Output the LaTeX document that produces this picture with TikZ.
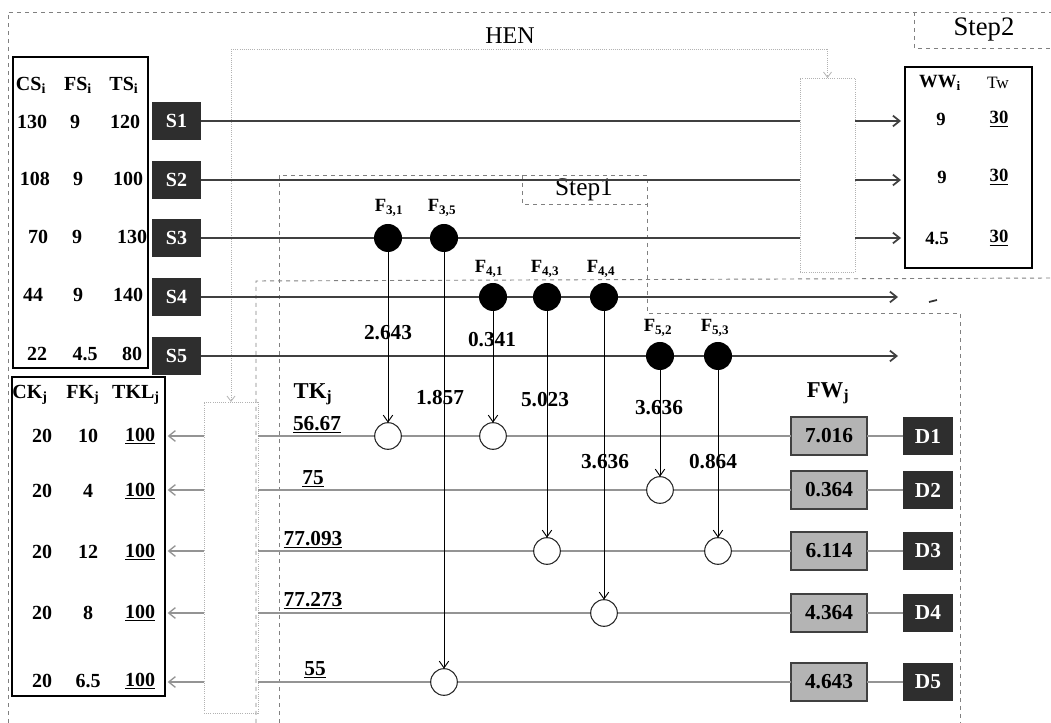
\documentclass[tikz,border=0pt]{standalone}
\usepackage{fontspec}
\setmainfont{Liberation Serif}
\usetikzlibrary{arrows.meta}
\definecolor{boxdark}{HTML}{2E2E2E}
\definecolor{fwgray}{HTML}{B4B4B4}
\begin{document}
\begin{tikzpicture}[x=0.75pt,y=-0.75pt,
  every node/.style={inner sep=0pt, outer sep=0pt},
  sbox/.style={fill=boxdark, text=white, font=\bfseries\fontsize{15}{15}\selectfont, minimum width=37pt, minimum height=28pt},
  fwbox/.style={fill=fwgray, draw=black!75, line width=0.9pt, font=\bfseries\fontsize{16}{16}\selectfont, minimum width=57pt, minimum height=28.5pt},
  hot/.style={circle, fill=black, minimum size=21pt},
  cold/.style={circle, draw=black!85, line width=0.8pt, fill=white, minimum size=20pt},
  val/.style={font=\bfseries\fontsize{16}{16}\selectfont},
  tab/.style={font=\bfseries\fontsize{15}{15}\selectfont},
  wtab/.style={font=\bfseries\fontsize{14}{14}\selectfont},
  flab/.style={font=\bfseries\fontsize{14}{14}\selectfont},
  hdr/.style={font=\fontsize{18}{18}\selectfont},
  stream/.style={draw=black!75, line width=1.3pt},
  sink/.style={draw=black!42, line width=1pt},
  henl/.style={draw=black!30, line width=0.6pt, densely dotted},
  stepl/.style={draw=black!50, line width=0.7pt, dashed},
  tip/.style={-{Straight Barb[length=5pt,width=8pt]}},
  ext/.style={-{Straight Barb[length=4pt,width=6pt]}},
  flow/.style={draw=black, line width=0.7pt, -{Straight Barb[length=5pt,width=7pt]}},
]
\useasboundingbox (0,0) rectangle (1051,723);

% ---------- dashed frames ----------
\draw[stepl] (8,723) -- (8,12) -- (1051,12);
\draw[stepl] (914,12) -- (914,48) -- (1051,48);
\draw[stepl] (256,723) -- (256,281) -- (1051,278);
\draw[stepl] (279,723) -- (279,175) -- (647,175) -- (647,313) -- (960,313) -- (960,723);
\draw[stepl] (522,175) -- (522,204) -- (647,204);
\node[hdr] (hen) at (510,36) {HEN};
\node[font=\fontsize{20}{20}\selectfont] (st2) at (984,30) {Step2};
\node[font=\fontsize{19}{19}\selectfont] (st1) at (584,190) {Step1};

% ---------- HEN boxes ----------
\node[henl, draw, minimum width=41.25pt, minimum height=145.5pt] (heat) at (827.5,175) {};
\node[henl, draw, minimum width=40.5pt, minimum height=233.25pt] (cool) at (231,557.5) {};
\coordinate (henL) at (231,49);
\coordinate (henR) at (827.5,49);
\draw[henl] (henL) -- (henR);
\draw[henl, ext] (henL) -- (cool.north);
\draw[henl, ext] (henR) -- (heat.north);

% ---------- source table ----------
\node[draw, line width=1.2pt, minimum width=101.25pt, minimum height=233pt] (stab) at (80.5,212.5) {};
\node[tab] (hcs) at (31,85) {CS\textsubscript{i}};
\node[tab] (hfs) at (78,85) {FS\textsubscript{i}};
\node[tab] (hts) at (124,85) {TS\textsubscript{i}};
\node[tab] (a1) at (32,122) {130}; \node[tab] (b1) at (75,122) {9};   \node[tab] (c1) at (125,122) {120};
\node[tab] (a2) at (35,179) {108}; \node[tab] (b2) at (78,179) {9};   \node[tab] (c2) at (128,179) {100};
\node[tab] (a3) at (38,237) {70};  \node[tab] (b3) at (77,237) {9};   \node[tab] (c3) at (132,237) {130};
\node[tab] (a4) at (33,295) {44};  \node[tab] (b4) at (78,295) {9};   \node[tab] (c4) at (128,295) {140};
\node[tab] (a5) at (37,354) {22};  \node[tab] (b5) at (85,354) {4.5}; \node[tab] (c5) at (132,354) {80};

% ---------- source boxes ----------
\node[sbox] (S1) at (176.5,121) {S1};
\node[sbox] (S2) at (176.5,180) {S2};
\node[sbox] (S3) at (176.5,238) {S3};
\node[sbox] (S4) at (176.5,297) {S4};
\node[sbox] (S5) at (176.5,356) {S5};

% ---------- WW table ----------
\node[draw, line width=1.5pt, minimum width=95.25pt, minimum height=150.75pt] (WW) at (968.5,167.5) {};
\node[wtab] (hww) at (940,83) {WW\textsubscript{i}};
\node[font=\fontsize{13}{13}\selectfont] (htw) at (998,83) {Tw};
\node[wtab] (w1) at (941,119) {9};   \node[wtab] (t1) at (999,119) {\underline{30}};
\node[wtab] (w2) at (942,177) {9};   \node[wtab] (t2) at (999,177) {\underline{30}};
\node[wtab] (w3) at (937,238) {4.5}; \node[wtab] (t3) at (999,238) {\underline{30}};

% ---------- stream lines ----------
\draw[stream] (S1.east) -- (heat.west |- S1);
\draw[stream] (S2.east) -- (heat.west |- S2);
\draw[stream] (S3.east) -- (heat.west |- S3);
\draw[stream, tip, shorten >=3pt] (heat.east |- S1) -- (WW.west |- S1);
\draw[stream, tip, shorten >=3pt] (heat.east |- S2) -- (WW.west |- S2);
\draw[stream, tip, shorten >=3pt] (heat.east |- S3) -- (WW.west |- S3);
\coordinate (e4) at (898,297);
\coordinate (e5) at (898,356);
\draw[stream, tip] (S4.east) -- (e4);
\draw[stream, tip] (S5.east) -- (e5);
\draw[line width=1.3pt, black!80] (929,302) -- (937,300);

% ---------- sink table ----------
\node[draw, line width=1.2pt, minimum width=114.75pt, minimum height=239.25pt] (ktab) at (88.5,536.5) {};
\node[tab] (hck) at (30,395) {CK\textsubscript{j}};
\node[tab] (hfk) at (83,395) {FK\textsubscript{j}};
\node[tab] (htk) at (136,395) {TKL\textsubscript{j}};
\node[tab] (k1) at (42,436) {20}; \node[tab] (f1) at (88,436) {10};  \node[tab] (l1) at (140,436) {\underline{100}};
\node[tab] (k2) at (42,491) {20}; \node[tab] (f2) at (88,491) {4};   \node[tab] (l2) at (140,491) {\underline{100}};
\node[tab] (k3) at (42,552) {20}; \node[tab] (f3) at (88,552) {12};  \node[tab] (l3) at (140,552) {\underline{100}};
\node[tab] (k4) at (42,613) {20}; \node[tab] (f4) at (88,613) {8};   \node[tab] (l4) at (140,613) {\underline{100}};
\node[tab] (k5) at (42,681) {20}; \node[tab] (f5) at (88,681) {6.5}; \node[tab] (l5) at (140,681) {\underline{100}};

% ---------- FW and D boxes ----------
\node[val, font=\bfseries\fontsize{17}{17}\selectfont] (tkh) at (313,394) {TK\textsubscript{j}};
\node[val, font=\bfseries\fontsize{17}{17}\selectfont] (fwh) at (828,393) {FW\textsubscript{j}};
\node[fwbox] (FW1) at (829,436) {7.016};
\node[fwbox] (FW2) at (829,490) {0.364};
\node[fwbox] (FW3) at (829,551) {6.114};
\node[fwbox] (FW4) at (829,613) {4.364};
\node[fwbox] (FW5) at (829,682) {4.643};
\node[sbox, font=\bfseries\fontsize{16}{16}\selectfont] (D1) at (928,436) {D1};
\node[sbox, font=\bfseries\fontsize{16}{16}\selectfont] (D2) at (928,490) {D2};
\node[sbox, font=\bfseries\fontsize{16}{16}\selectfont] (D3) at (928,551) {D3};
\node[sbox, font=\bfseries\fontsize{16}{16}\selectfont] (D4) at (928,613) {D4};
\node[sbox, font=\bfseries\fontsize{16}{16}\selectfont] (D5) at (928,682) {D5};

\foreach \i in {1,...,5}{
  \draw[sink] (D\i.west) -- (FW\i.east);
  \draw[sink] (FW\i.west) -- (cool.east |- FW\i);
  \draw[sink, tip, shorten >=2pt] (cool.west |- FW\i) -- (ktab.east |- FW\i);
}

\node[val, anchor=south] (tk1) at (317,433) {\underline{56.67}};
\node[val, anchor=south] (tk2) at (313,487) {\underline{75}};
\node[val, anchor=south] (tk3) at (313,548) {\underline{77.093}};
\node[val, anchor=south] (tk4) at (313,609) {\underline{77.273}};
\node[val, anchor=south] (tk5) at (315,678) {\underline{55}};

% ---------- matches ----------
\node[hot] (h31) at (388,238) {};
\node[hot] (h35) at (444,238) {};
\node[hot] (h41) at (493,297) {};
\node[hot] (h43) at (547,297) {};
\node[hot] (h44) at (604,297) {};
\node[hot] (h52) at (660,356) {};
\node[hot] (h53) at (718,356) {};
\node[cold] (c1a) at (388,436) {};
\node[cold] (c1b) at (493,436) {};
\node[cold] (c2)  at (660,490) {};
\node[cold] (c3a) at (547,551) {};
\node[cold] (c3b) at (718,551) {};
\node[cold] (c4)  at (604,613) {};
\node[cold] (c5)  at (444,682) {};

\node[flab] (l31) at (389,208) {F\textsubscript{3,1}};
\node[flab] (l35) at (442,208) {F\textsubscript{3,5}};
\node[flab] (l41) at (489,269) {F\textsubscript{4,1}};
\node[flab] (l43) at (545,269) {F\textsubscript{4,3}};
\node[flab] (l44) at (601,269) {F\textsubscript{4,4}};
\node[flab] (l52) at (658,328) {F\textsubscript{5,2}};
\node[flab] (l53) at (715,328) {F\textsubscript{5,3}};

\draw[flow] (h31) -- (c1a);
\draw[flow] (h35) -- (c5);
\draw[flow] (h41) -- (c1b);
\draw[flow] (h43) -- (c3a);
\draw[flow] (h44) -- (c4);
\draw[flow] (h52) -- (c2);
\draw[flow] (h53) -- (c3b);

\node[val] (v31) at (388,333) {2.643};
\node[val] (v35) at (440,398) {1.857};
\node[val] (v41) at (492,340) {0.341};
\node[val] (v43) at (545,400) {5.023};
\node[val] (v44) at (605,462) {3.636};
\node[val] (v52) at (659,408) {3.636};
\node[val] (v53) at (713,462) {0.864};
\end{tikzpicture}
\end{document}
